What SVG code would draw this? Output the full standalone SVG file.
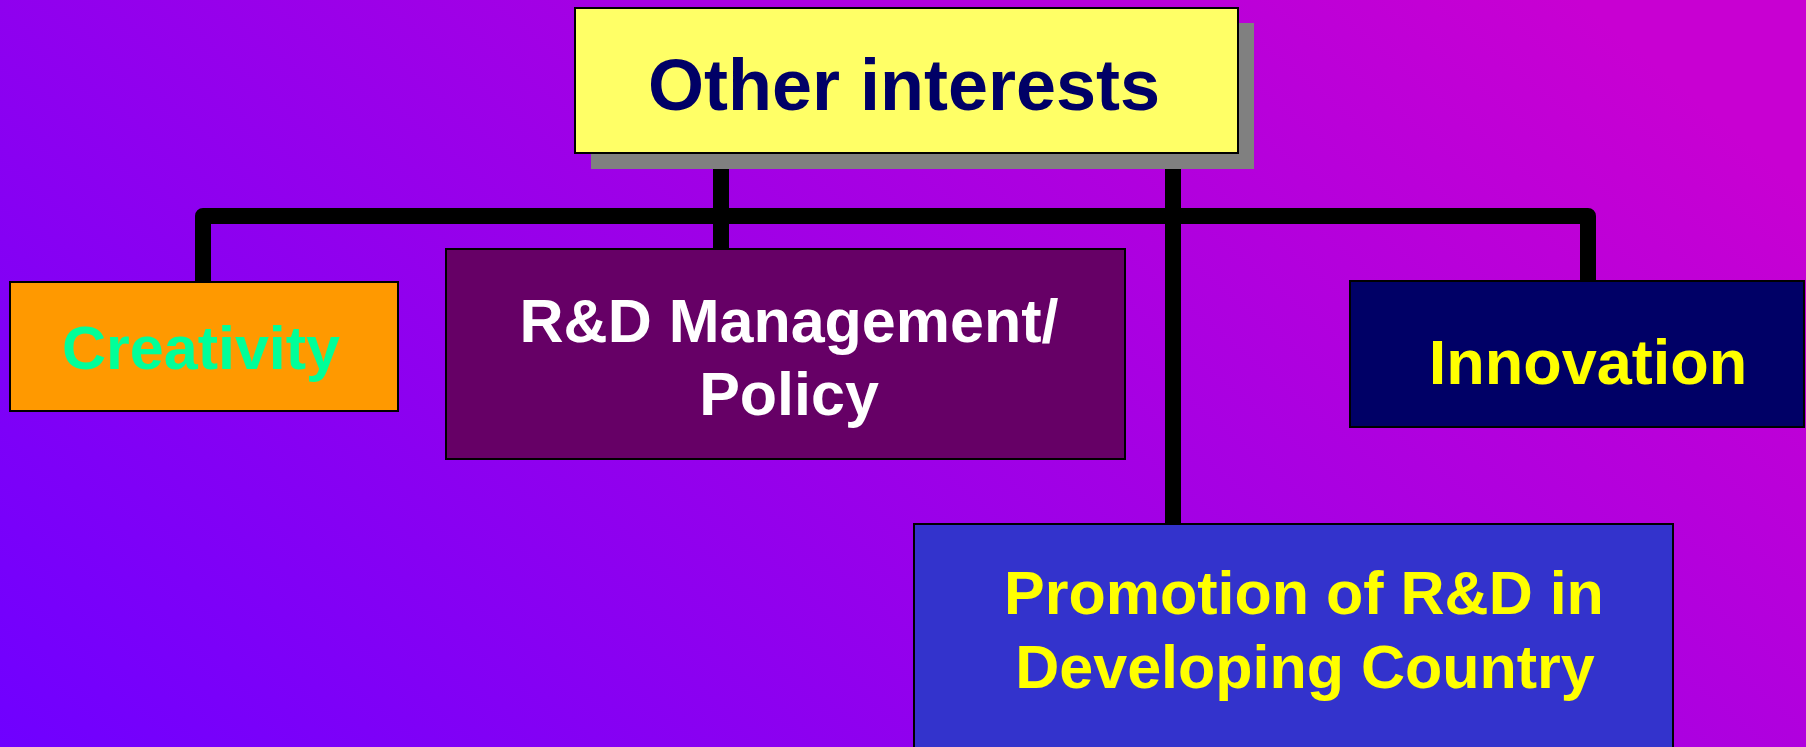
<svg xmlns="http://www.w3.org/2000/svg" width="1806" height="747" viewBox="0 0 1806 747">
  <defs>
    <linearGradient id="bg" gradientUnits="userSpaceOnUse" x1="0" y1="747" x2="1019" y2="-470">
      <stop offset="0" stop-color="#6f00ff"/>
      <stop offset="1" stop-color="#c800d2"/>
    </linearGradient>
    <style>
      .box { stroke: #000000; stroke-width: 2; }
      .lbl { font-family: "Liberation Sans", Arial, sans-serif; font-weight: bold; text-anchor: middle; }
      .wire { fill: none; stroke: #000000; stroke-width: 16; stroke-linejoin: round; }
    </style>
  </defs>
  <rect x="0" y="0" width="1806" height="747" fill="url(#bg)"/>

  <g id="connectors">
    <path class="wire" d="M203,282 V216 H1588 V282"/>
    <path class="wire" d="M721,160 V250"/>
    <path class="wire" d="M1173,160 V525"/>
  </g>

  <g id="node-other-interests">
    <rect x="591" y="23" width="663" height="146" fill="#808080"/>
    <rect class="box" x="575" y="8" width="663" height="145" fill="#ffff66"/>
    <text class="lbl" x="904" y="110" font-size="72" fill="#000066">Other interests</text>
  </g>

  <g id="node-creativity">
    <rect class="box" x="10" y="282" width="388" height="129" fill="#ff9900"/>
    <text class="lbl" x="201" y="369" font-size="61" fill="#00ff99">Creativity</text>
  </g>

  <g id="node-rd-management">
    <rect class="box" x="446" y="249" width="679" height="210" fill="#660066"/>
    <text class="lbl" x="789" y="342" font-size="61" fill="#ffffff">R&amp;D Management/</text>
    <text class="lbl" x="789" y="415" font-size="61" fill="#ffffff">Policy</text>
  </g>

  <g id="node-innovation">
    <rect class="box" x="1350" y="281" width="454" height="146" fill="#000066"/>
    <text class="lbl" x="1588" y="384" font-size="63" fill="#ffff00">Innovation</text>
  </g>

  <g id="node-promotion">
    <rect class="box" x="914" y="524" width="759" height="240" fill="#3333cc"/>
    <text class="lbl" x="1304" y="614" font-size="61" fill="#ffff00">Promotion of R&amp;D in</text>
    <text class="lbl" x="1305" y="688" font-size="61" fill="#ffff00">Developing Country</text>
  </g>
</svg>
